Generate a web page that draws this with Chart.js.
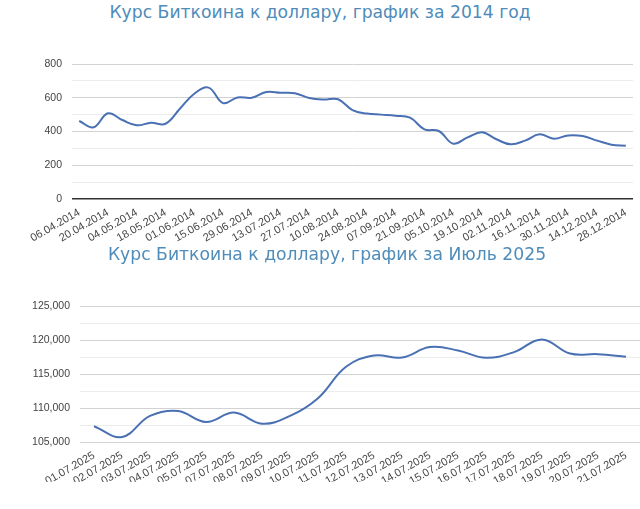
<!DOCTYPE html>
<html>
<head>
<meta charset="utf-8">
<script src="https://cdn.jsdelivr.net/npm/chart.js@4"></script>
<style>
    body { margin: 0; background: #fff; width: 640px; height: 509px; position: relative; overflow: hidden; }
    h2 {
        position: absolute; left: 0; width: 640px; margin: 0; text-align: center;
        font: normal 17.2px "DejaVu Sans", Verdana, sans-serif; color: #4f8cba;
    }
    .box { position: absolute; left: 0; width: 640px; }
</style>
</head>
<body>
<h2 style="top:2px">Курс Биткоина к доллару, график за 2014 год</h2>
<div class="box" style="top:30px;height:225px"><canvas id="ch2014"></canvas></div>
<h2 style="top:244px;left:7px">Курс Биткоина к доллару, график за Июль 2025</h2>
<div class="box" style="top:268px;height:241px"><canvas id="ch2025"></canvas></div>
<script>
// ───── ДАННЫЕ ─────
const WEEKS_2014 = [
    "06.04.2014","13.04.2014","20.04.2014","27.04.2014","04.05.2014","11.05.2014","18.05.2014","25.05.2014",
    "01.06.2014","08.06.2014","15.06.2014","22.06.2014","29.06.2014","06.07.2014","13.07.2014","20.07.2014",
    "27.07.2014","03.08.2014","10.08.2014","17.08.2014","24.08.2014","31.08.2014","07.09.2014","14.09.2014",
    "21.09.2014","28.09.2014","05.10.2014","12.10.2014","19.10.2014","26.10.2014","02.11.2014","09.11.2014",
    "16.11.2014","23.11.2014","30.11.2014","07.12.2014","14.12.2014","21.12.2014","28.12.2014"
];
const PRICE_2014 = [
    462, 425, 508, 468, 437, 452, 446, 535,
    624, 660, 568, 602, 600, 634, 630, 627,
    598, 589, 591, 527, 506, 500, 494, 482,
    413, 403, 328, 365, 395, 354, 324, 346,
    383, 357, 377, 373, 346, 322, 316
];
const Y_TICKS_2014 = [0, 200, 400, 600, 800];

const DAYS_2025 = [
    "01.07.2025","02.07.2025","03.07.2025","04.07.2025","05.07.2025","07.07.2025","08.07.2025",
    "09.07.2025","10.07.2025","11.07.2025","12.07.2025","13.07.2025","14.07.2025","15.07.2025",
    "16.07.2025","17.07.2025","18.07.2025","19.07.2025","20.07.2025","21.07.2025"
];
const PRICE_2025 = [
    107310, 105740, 108830, 109570, 107950, 109320, 107700,
    108830, 111450, 116060, 117730, 117430, 118960, 118460,
    117380, 118220, 120090, 118020, 117920, 117530
];
const Y_TICKS_2025 = [105000, 110000, 115000, 120000, 125000];

const LINE_COLOR = "#4a70b4";
const FONT_FAM   = "'Liberation Sans', Arial, sans-serif";

function _lineChart(canvasId, labels, data, cfg) {
    return new Chart(document.getElementById(canvasId), {
        type: "line",
        data: {
            labels,
            datasets: [{
                data,
                borderColor: LINE_COLOR,
                borderWidth: 2,
                pointRadius: 0,
                tension: 0.4,
                fill: false,
            }]
        },
        options: {
            responsive: true, maintainAspectRatio: false, animation: false,
            layout: { padding: { top: cfg.top, right: cfg.right, left: 0, bottom: cfg.bottom } },
            plugins: { legend: { display: false }, tooltip: { enabled: false } },
            scales: {
                x: {
                    offset: true,
                    grid: { display: false, drawTicks: false },
                    border: { display: false },
                    afterFit: s => { s.height = cfg.xHeight; },
                    ticks: {
                        autoSkip: false, minRotation: 30, maxRotation: 30,
                        color: "#444", font: { family: FONT_FAM, size: 11 }, padding: 7,
                        callback: (v, i) => (i % cfg.every === 0 ? labels[i] : "")
                    }
                },
                y: {
                    min: cfg.ticks[0], max: cfg.ticks[cfg.ticks.length - 1],
                    border: { display: false },
                    afterFit: s => { s.width = cfg.yWidth; },
                    grid: {
                        drawTicks: false,
                        color: ctx => {
                            const v = ctx.tick.value;
                            if (cfg.darkZero && v === 0) return "#333";
                            return cfg.ticks.includes(v) ? "#d2d2d2" : "#ececec";
                        },
                        lineWidth: ctx => (cfg.darkZero && ctx.tick.value === 0 ? 1.5 : 1)
                    },
                    ticks: {
                        stepSize: cfg.step, color: "#444", font: { family: FONT_FAM, size: 10.5 }, padding: 10,
                        callback: v => (cfg.ticks.includes(v) ? v.toLocaleString("en-US") : "")
                    }
                }
            }
        }
    });
}

_lineChart("ch2014", WEEKS_2014, PRICE_2014, {
    ticks: Y_TICKS_2014, step: 100, every: 2, darkZero: true,
    top: 34, right: 7, bottom: 10, yWidth: 72, xHeight: 46
});

_lineChart("ch2025", DAYS_2025, PRICE_2025, {
    ticks: Y_TICKS_2025, step: 2500, every: 1, darkZero: false,
    top: 38, right: 0, bottom: 27, yWidth: 80, xHeight: 40
});
</script>
</body>
</html>
